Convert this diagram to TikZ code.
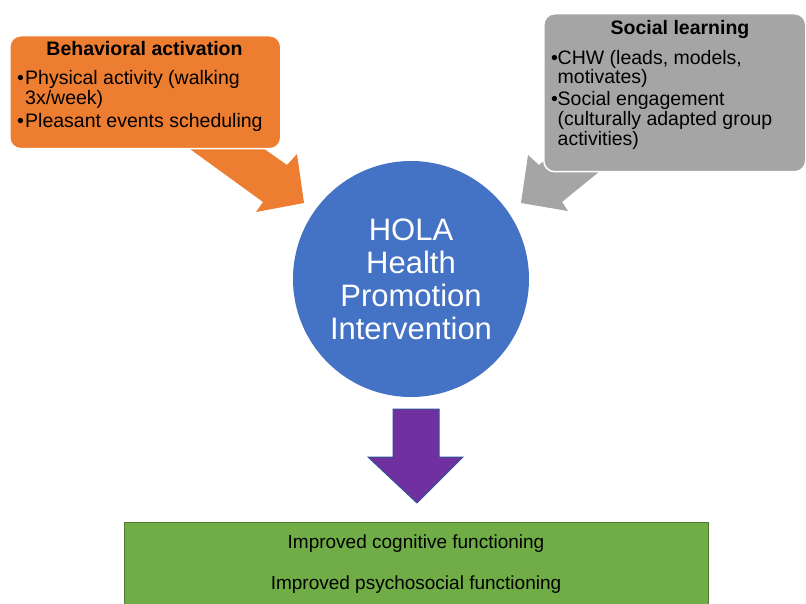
\documentclass[tikz,border=0pt]{standalone}
\usepackage{fontspec}
\setmainfont{Liberation Sans}
\definecolor{cOrange}{HTML}{ED7D31}
\definecolor{cGray}{HTML}{A5A5A5}
\definecolor{cBlue}{HTML}{4472C4}
\definecolor{cPurple}{HTML}{7030A0}
\definecolor{cPurpleEdge}{HTML}{2F5597}
\definecolor{cGreen}{HTML}{70AD47}
\definecolor{cGreenEdge}{HTML}{4E7A32}
\begin{document}
\begin{tikzpicture}[x=1pt,y=-1pt,
  panel/.style={draw=white, line width=1.5pt, rounded corners=11pt, inner sep=0pt},
  txt/.style={font=\fontsize{19.5}{22}\selectfont, inner sep=0pt, anchor=base west},
  ttl/.style={font=\bfseries\fontsize{19.5}{22}\selectfont, inner sep=0pt, anchor=base},
  outtxt/.style={font=\fontsize{19}{22}\selectfont, inner sep=0pt, anchor=base},
  blockarrow/.style={line join=miter}]
\clip (0,0) rectangle (806,604);
\fill[white] (0,0) rectangle (806,604);

% block arrows from the two panels (drawn first, panels cover their roots)
\fill[cOrange, blockarrow] (179,141) -- (263,202) -- (256,212) -- (304,203)
  -- (297,154) -- (287,165) -- (253,141) -- cycle;
\fill[cGray, blockarrow] (560,148) -- (539,165) -- (528,155) -- (521,203)
  -- (568,211) -- (562,202) -- (600,171) -- (600,148) -- cycle;

% Behavioral activation panel
\node[panel, fill=cOrange, minimum width=271pt, minimum height=113pt, anchor=north west] (ba) at (9,35) {};
\node[ttl] (ba-title) at (144.5,56) {Behavioral activation};
\node[txt] (ba-1) at (17,85) {\makebox[8pt][l]{•}Physical activity (walking};
\node[txt] (ba-1b) at (25,105) {3x/week)};
\node[txt] (ba-2) at (17,128) {\makebox[8pt][l]{•}Pleasant events scheduling};

% Social learning panel
\node[panel, fill=cGray, minimum width=262pt, minimum height=158pt, anchor=north west] (sl) at (543,13) {};
\node[ttl] (sl-title) at (680,35) {Social learning};
\node[txt] (sl-1) at (551,65) {\makebox[6.5pt][l]{•}CHW (leads, models,};
\node[txt] (sl-1b) at (557.5,84) {motivates)};
\node[txt] (sl-2) at (551,106) {\makebox[6.5pt][l]{•}Social engagement};
\node[txt] (sl-2b) at (557.5,126) {(culturally adapted group};
\node[txt] (sl-2c) at (557.5,146) {activities)};

% central circle
\node[circle, fill=cBlue, minimum size=236pt, inner sep=0pt, text=white, align=center,
  font=\fontsize{31}{33}\selectfont] (hola) at (411,279) {HOLA\\Health\\Promotion\\Intervention};

% downward arrow
\filldraw[fill=cPurple, draw=cPurpleEdge, line width=1pt, blockarrow]
  (393,409) -- (439,409) -- (439,457) -- (463,457) -- (417,503) -- (368,457) -- (393,457) -- cycle;

% outcome panel
\node[draw=cGreenEdge, fill=cGreen, line width=0.8pt, minimum width=584pt, minimum height=95pt,
  anchor=north west, inner sep=0pt] (out) at (124,522) {};
\node[outtxt] (out-1) at (416,548) {Improved cognitive functioning};
\node[outtxt] (out-2) at (416,589) {Improved psychosocial functioning};
\end{tikzpicture}
\end{document}
